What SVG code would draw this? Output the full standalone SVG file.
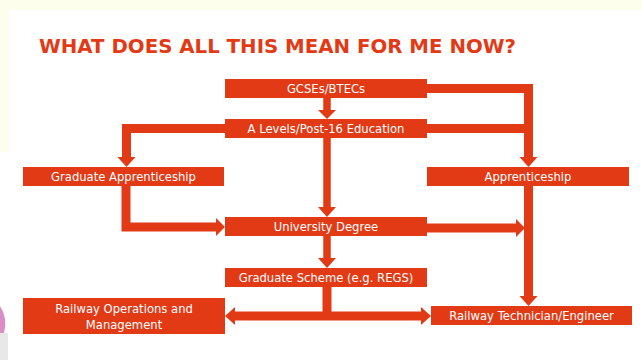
<svg xmlns="http://www.w3.org/2000/svg" width="642" height="360" viewBox="0 0 642 360">
  <style>
    .box { fill: #E33A16; }
    .lbl { fill: #FFFFFF; font-family: "DejaVu Sans", Verdana, sans-serif; font-size: 11.6px; text-anchor: middle; }
    .title { fill: #E33A16; font-family: "DejaVu Sans", Verdana, sans-serif; font-size: 20px; font-weight: bold; }
    .wire { fill: none; stroke: #E33A16; stroke-width: 9; stroke-linejoin: miter; stroke-linecap: butt; }
    .wire-s { fill: none; stroke: #E33A16; stroke-width: 7.5; stroke-linecap: butt; }
    .head { fill: #E33A16; }
  </style>
  <rect x="0" y="0" width="642" height="360" fill="#FFFFFF"/>
  <rect x="0" y="0" width="642" height="10" fill="#FEFEEC"/>
  <rect x="0" y="0" width="9" height="152" fill="#FEFEEC"/>
  <path d="M0,306 Q8,318 4,333 L0,333 Z" fill="#D98FC6"/>
  <rect x="0" y="333" width="8" height="27" fill="#E8E8E8"/>

  <text class="title" x="39" y="53" textLength="477" lengthAdjust="spacingAndGlyphs">WHAT DOES ALL THIS MEAN FOR ME NOW?</text>

  <g id="connectors">
    <path class="wire-s" d="M327,97 V110"/>
    <polygon class="head" points="318,110 336,110 327,119"/>
    <path class="wire" d="M427,88.5 H528.5 V157"/>
    <polygon class="head" points="519.5,157 537.5,157 528.5,167"/>
    <path class="wire" d="M427,128.5 H528.5"/>
    <path class="wire" d="M225,128.5 H126.5 V157"/>
    <polygon class="head" points="117.5,157 135.5,157 126.5,167"/>
    <path class="wire-s" d="M327,137 V208"/>
    <polygon class="head" points="318,207 336,207 327,217"/>
    <path class="wire" d="M126,186 V227 H216"/>
    <polygon class="head" points="216,218 216,236 225,227"/>
    <path class="wire" d="M427,228 H516"/>
    <polygon class="head" points="516,219 516,237 525,228"/>
    <path class="wire" d="M528.5,186 V296"/>
    <polygon class="head" points="519.5,296 537.5,296 528.5,306"/>
    <path class="wire-s" d="M327,236 V259"/>
    <polygon class="head" points="318,258 336,258 327,268"/>
    <path class="wire" d="M327,287 V316"/>
    <path class="wire" d="M235,316 H421"/>
    <polygon class="head" points="235,307 235,325 225,316"/>
    <polygon class="head" points="421,307 421,325 431,316"/>
  </g>

  <g id="gcses">
    <rect class="box" x="225" y="79" width="202" height="19"/>
    <text class="lbl" x="326" y="92.5">GCSEs/BTECs</text>
  </g>
  <g id="alevels">
    <rect class="box" x="225" y="119" width="202" height="19"/>
    <text class="lbl" x="326" y="132.5">A Levels/Post-16 Education</text>
  </g>
  <g id="grad-apprenticeship">
    <rect class="box" x="23" y="167" width="201" height="19"/>
    <text class="lbl" x="123.5" y="180.5">Graduate Apprenticeship</text>
  </g>
  <g id="apprenticeship">
    <rect class="box" x="427" y="167" width="202" height="19"/>
    <text class="lbl" x="528" y="180.5">Apprenticeship</text>
  </g>
  <g id="university">
    <rect class="box" x="225" y="217" width="202" height="19"/>
    <text class="lbl" x="326" y="230.5">University Degree</text>
  </g>
  <g id="grad-scheme">
    <rect class="box" x="225" y="268" width="202" height="19"/>
    <text class="lbl" x="326" y="281.5">Graduate Scheme (e.g. REGS)</text>
  </g>
  <g id="railway-ops">
    <rect class="box" x="23" y="298" width="202" height="36"/>
    <text class="lbl" x="124" y="313">Railway Operations and</text>
    <text class="lbl" x="124" y="329">Management</text>
  </g>
  <g id="railway-tech">
    <rect class="box" x="431" y="306" width="201" height="19"/>
    <text class="lbl" x="531.5" y="319.5">Railway Technician/Engineer</text>
  </g>
</svg>
